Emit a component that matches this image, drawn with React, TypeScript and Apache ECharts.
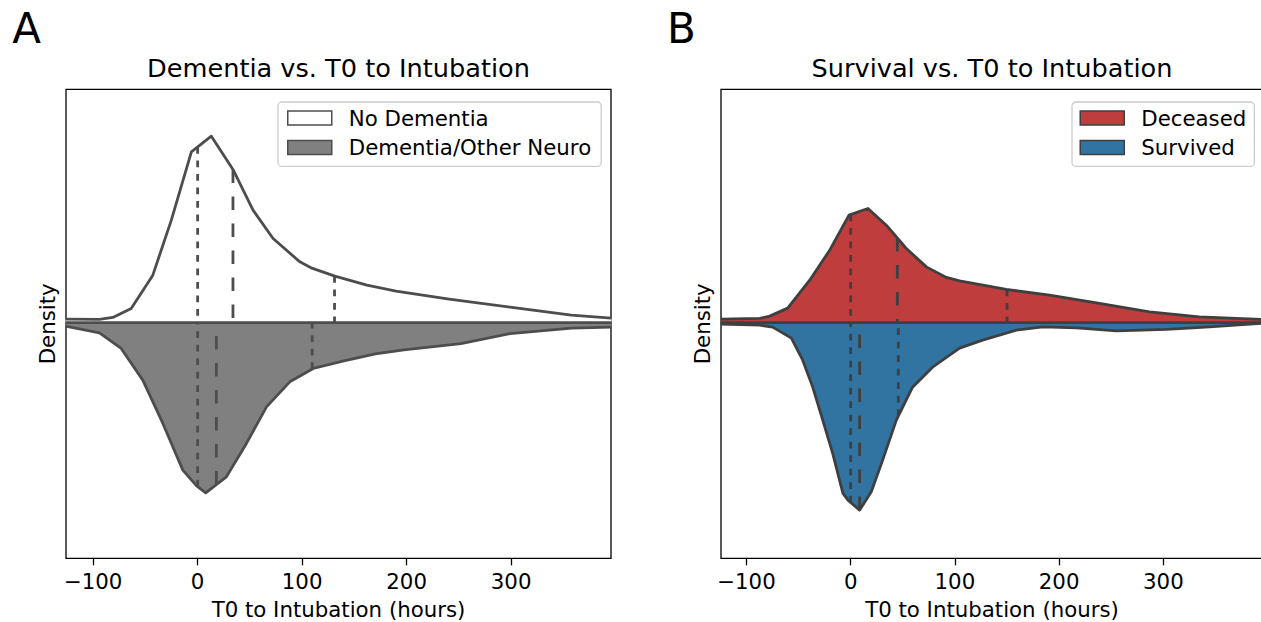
import React, { useEffect, useRef } from 'react';
import * as echarts from 'echarts';

const FONT = 'DejaVu Sans';

const xTicks = [-100, 0, 100, 200, 300];

// Panel A: Dementia vs. T0 to Intubation
const noDementiaX = [-126.6, -94, -81.2, -63.6, -42.9, -25.2, -6, 13.1, 33.8, 53, 72.2, 97.8, 109.3, 131.3, 162, 189.8, 240.7, 299, 357.6, 396];
const noDementiaY = [0.035, 0.032, 0.052, 0.142, 0.475, 1.025, 1.708, 1.865, 1.532, 1.125, 0.842, 0.608, 0.545, 0.465, 0.375, 0.315, 0.235, 0.155, 0.075, 0.045];
const dementiaX = [-126.6, -94, -73.2, -52.5, -33.3, -14.2, -1.2, 7.7, 27.5, 46.7, 65.9, 88.2, 110.6, 139, 170, 197.5, 252, 299, 358, 396];
const dementiaY = [-0.035, -0.102, -0.258, -0.575, -1.008, -1.475, -1.63, -1.702, -1.542, -1.208, -0.842, -0.592, -0.458, -0.385, -0.312, -0.272, -0.21, -0.11, -0.055, -0.045];
const noDementiaQuartiles = [0, 33.8, 131];
const dementiaQuartiles = [0, 17.9, 109.6];

// Panel B: Survival vs. T0 to Intubation
const deceasedX = [-124.4, -87.2, -77.7, -60.4, -39.3, -20.1, -1.6, 16.6, 34.2, 53.4, 72.6, 91.8, 104.5, 149.3, 190.8, 238.7, 286.7, 334.6, 395.6];
const deceasedY = [0.035, 0.042, 0.065, 0.145, 0.425, 0.725, 1.075, 1.142, 0.975, 0.742, 0.558, 0.452, 0.418, 0.332, 0.275, 0.192, 0.108, 0.058, 0.032];
const survivedX = [-124.4, -87.2, -74.8, -56.9, -46, -36.4, -26.8, -17.3, -7.4, -2.6, 8.6, 19.8, 30.7, 43.8, 59.4, 78.6, 104.5, 126.6, 158.9, 184.5, 216.8, 255, 303, 344.6, 395.6];
const survivedY = [-0.015, -0.025, -0.045, -0.155, -0.375, -0.645, -0.975, -1.305, -1.708, -1.775, -1.875, -1.692, -1.375, -0.975, -0.645, -0.445, -0.255, -0.175, -0.075, -0.042, -0.052, -0.082, -0.068, -0.042, -0.005];
const deceasedQuartiles = [0, 44.8, 150];
const survivedQuartiles = [0, 8.6, 45.7];

const GRAY_A = '#4d4d4d';
const GRAY_B = '#3f3f3f';

function zip(xs: number[], ys: number[]) {
  return xs.map((x, i) => [x, ys[i]]);
}

function interp(xs: number[], ys: number[], q: number) {
  for (let i = 0; i < xs.length - 1; i++) {
    if (q >= xs[i] && q <= xs[i + 1]) {
      const t = (q - xs[i]) / (xs[i + 1] - xs[i]);
      return ys[i] + t * (ys[i + 1] - ys[i]);
    }
  }
  return 0;
}

function quartileSeries(idx: number, xs: number[], ys: number[], qs: number[], color: string) {
  return qs.map((q, i) => ({
    type: 'line',
    xAxisIndex: idx,
    yAxisIndex: idx,
    data: [[q, interp(xs, ys, q)], [q, 0]],
    symbol: 'none',
    silent: true,
    lineStyle: { color, width: 2.8, type: i === 1 ? [13.5, 13.5] : [6.75, 6.75], cap: 'butt' },
    z: 5,
  }));
}

function violinSeries(idx: number, name: string, xs: number[], ys: number[], fill: string, edge: string) {
  return {
    type: 'line',
    name,
    xAxisIndex: idx,
    yAxisIndex: idx,
    data: zip(xs, ys),
    symbol: 'none',
    silent: true,
    itemStyle: { color: fill },
    lineStyle: { color: edge, width: 2.8, join: 'round' },
    areaStyle: { color: fill, opacity: 1, origin: 'auto' },
    z: 2,
  };
}

function centerLine(idx: number, xmin: number, xmax: number, color: string) {
  return {
    type: 'line',
    xAxisIndex: idx,
    yAxisIndex: idx,
    data: [[xmin, 0], [xmax, 0]],
    symbol: 'none',
    silent: true,
    lineStyle: { color, width: 2.8 },
    z: 4,
  };
}

const fmt = (v: number) => (v < 0 ? '\u2212' + Math.abs(v) : String(v));

function makeXAxis(idx: number, min: number, max: number) {
  return {
    gridIndex: idx,
    type: 'value',
    min,
    max,
    axisLine: { show: false, onZero: false },
    splitLine: { show: false },
    axisTick: { show: true, length: 7, lineStyle: { color: '#000', width: 1.3 }, customValues: xTicks },
    axisLabel: { customValues: xTicks, formatter: fmt, fontSize: 21.3, color: '#000', fontFamily: FONT, margin: 13 },
    name: 'T0 to Intubation (hours)',
    nameLocation: 'middle',
    nameGap: 41,
    nameTextStyle: { fontSize: 21.3, color: '#000', fontFamily: FONT },
  };
}

function makeYAxis(idx: number) {
  return {
    gridIndex: idx,
    type: 'value',
    min: -2.357,
    max: 2.334,
    axisLine: { show: false, onZero: false },
    axisTick: { show: false },
    axisLabel: { show: false },
    splitLine: { show: false },
    name: 'Density',
    nameLocation: 'middle',
    nameRotate: 90,
    nameGap: 8,
    nameTextStyle: { fontSize: 21.3, color: '#000', fontFamily: FONT },
  };
}

function makeLegend(left: number, items: any[], padding: number[]) {
  return {
    data: items,
    orient: 'vertical',
    left,
    top: 102,
    icon: 'rect',
    itemWidth: 44,
    itemHeight: 14,
    itemGap: 7.4,
    padding,
    borderColor: '#cccccc',
    borderWidth: 1.3,
    borderRadius: 4,
    backgroundColor: 'rgba(255,255,255,0.8)',
    selectedMode: false,
    textStyle: { fontFamily: FONT, fontSize: 21.3, color: '#000', padding: [0, 0, 0, 12], lineHeight: 22 },
  };
}

const gridBase = { top: 89.3, height: 469, show: true, borderColor: '#000', borderWidth: 1.3, backgroundColor: 'transparent', outerBoundsMode: 'none', containLabel: false };

export default function App() {
  const ref = useRef<HTMLDivElement>(null);
  useEffect(() => {
    if (!ref.current) return;
    const chart = echarts.init(ref.current, undefined, { renderer: 'svg' });
    const option: any = {
      animation: false,
      backgroundColor: '#ffffff',
      grid: [
        { ...gridBase, left: 66, width: 545 },
        { ...gridBase, left: 721, width: 542 },
      ],
      xAxis: [makeXAxis(0, -126, 395.6), makeXAxis(1, -124.4, 395.6)],
      yAxis: [makeYAxis(0), makeYAxis(1)],
      legend: [
        makeLegend(278, [
          { name: 'No Dementia', itemStyle: { color: '#ffffff', borderColor: GRAY_A, borderWidth: 1.5 } },
          { name: 'Dementia/Other Neuro', itemStyle: { color: '#808080', borderColor: GRAY_A, borderWidth: 1.5 } },
        ], [5, 10, 8, 9]),
        makeLegend(1072, [
          { name: 'Deceased', itemStyle: { color: '#c03d3e', borderColor: GRAY_B, borderWidth: 1.5 } },
          { name: 'Survived', itemStyle: { color: '#3274a1', borderColor: GRAY_B, borderWidth: 1.5 } },
        ], [5, 8, 8, 7.5]),
      ],
      graphic: [
        { type: 'text', x: 26.5, y: 28, style: { text: 'A', font: `42px "${FONT}"`, fill: '#000', align: 'center', verticalAlign: 'middle' } },
        { type: 'text', x: 681.5, y: 28, style: { text: 'B', font: `42px "${FONT}"`, fill: '#000', align: 'center', verticalAlign: 'middle' } },
        { type: 'text', x: 338.5, y: 68, style: { text: 'Dementia vs. T0 to Intubation', font: `25.6px "${FONT}"`, fill: '#000', align: 'center', verticalAlign: 'middle' } },
        { type: 'text', x: 992, y: 68, style: { text: 'Survival vs. T0 to Intubation', font: `25.6px "${FONT}"`, fill: '#000', align: 'center', verticalAlign: 'middle' } },
      ],
      series: [
        violinSeries(0, 'No Dementia', noDementiaX, noDementiaY, '#ffffff', GRAY_A),
        violinSeries(0, 'Dementia/Other Neuro', dementiaX, dementiaY, '#808080', GRAY_A),
        ...quartileSeries(0, noDementiaX, noDementiaY, noDementiaQuartiles, GRAY_A),
        ...quartileSeries(0, dementiaX, dementiaY, dementiaQuartiles, GRAY_A),
        centerLine(0, noDementiaX[0], noDementiaX[noDementiaX.length - 1], GRAY_A),
        violinSeries(1, 'Deceased', deceasedX, deceasedY, '#c03d3e', GRAY_B),
        violinSeries(1, 'Survived', survivedX, survivedY, '#3274a1', GRAY_B),
        ...quartileSeries(1, deceasedX, deceasedY, deceasedQuartiles, GRAY_B),
        ...quartileSeries(1, survivedX, survivedY, survivedQuartiles, GRAY_B),
        centerLine(1, deceasedX[0], deceasedX[deceasedX.length - 1], GRAY_B),
      ],
    };
    chart.setOption(option);
    return () => chart.dispose();
  }, []);
  return <div ref={ref} style={{ position: 'absolute', left: 0, top: 0, width: 1261, height: 622 }} />;
}
